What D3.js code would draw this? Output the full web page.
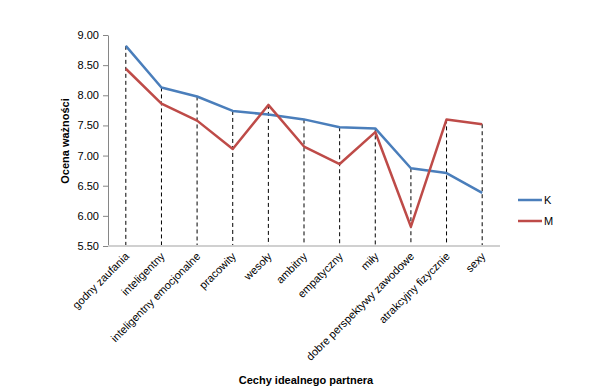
<!DOCTYPE html>
<html><head><meta charset="utf-8">
<script src="https://cdn.jsdelivr.net/npm/d3@7/dist/d3.min.js"></script>
<style>body{margin:0;background:#fff;} text{font-family:"Liberation Sans",Arial,sans-serif;}</style>
</head><body>
<svg id="c" width="589" height="390"></svg>
<script>
const categories = ["godny zaufania","inteligentny","inteligentny emocjonalne","pracowity","wesoły","ambitny","empatyczny","miły","dobre perspektywy zawodowe","atrakcyjny fizycznie","sexy"];
const seriesK = [8.82,8.13,7.98,7.74,7.68,7.60,7.47,7.45,6.79,6.71,6.38];
const seriesM = [8.44,7.86,7.58,7.11,7.84,7.15,6.86,7.39,5.82,7.60,7.52];
const yTicks = [5.5,6.0,6.5,7.0,7.5,8.0,8.5,9.0];
const seriesNames = ["K","M"];
const colors = ["#4a7ebb","#be4b48"];

const svg = d3.select("#c");
const x = d3.scaleBand().domain(categories).range([108,500]);
const y = d3.scaleLinear().domain([5.5,9.0]).range([246,35]);
const cx = d => x(d) + x.bandwidth()/2;

// y axis
const ya = svg.append("g").attr("transform","translate(108,0)")
  .call(d3.axisLeft(y).tickValues(yTicks).tickFormat(d3.format(".2f")).tickSize(5).tickSizeOuter(0));
ya.select(".domain").attr("stroke","#868686");
ya.selectAll(".tick line").attr("stroke","#868686");
ya.selectAll(".tick text").attr("font-size","11px").attr("fill","#000").attr("x",-9);

// drop lines
svg.append("g").selectAll("line").data(categories).join("line")
  .attr("x1",d=>cx(d)).attr("x2",d=>cx(d))
  .attr("y1",(d,i)=>y(Math.max(seriesK[i],seriesM[i])))
  .attr("y2",y(5.5))
  .attr("stroke","#000").attr("stroke-width",1).attr("stroke-dasharray","4,3");

// x axis line
svg.append("line").attr("x1",108).attr("x2",500).attr("y1",y(5.5)).attr("y2",y(5.5))
  .attr("stroke","#d0d0d0").attr("stroke-width",2);

// x labels
svg.append("g").selectAll("text").data(categories).join("text")
  .attr("transform",d=>`translate(${cx(d)+4},${257}) rotate(-45)`)
  .attr("text-anchor","end").attr("font-size","11px").attr("fill","#000")
  .text(d=>d);

// lines
const line = d3.line().x((d,i)=>cx(categories[i])).y(d=>y(d));
[seriesK,seriesM].forEach((s,k)=>{
  svg.append("path").datum(s).attr("d",line).attr("fill","none")
    .attr("stroke",colors[k]).attr("stroke-width",2.5).attr("stroke-linejoin","round");
});

// legend
seriesNames.forEach((n,k)=>{
  const ly = 200 + k*21;
  svg.append("line").attr("x1",518).attr("x2",542).attr("y1",ly).attr("y2",ly)
    .attr("stroke",colors[k]).attr("stroke-width",2.5);
  svg.append("text").attr("x",544).attr("y",ly+4).attr("font-size","11px").text(n);
});

// axis titles
svg.append("text").attr("transform","translate(69,141) rotate(-90)")
  .attr("text-anchor","middle").attr("font-size","11px").attr("font-weight","bold").text("Ocena ważności");
svg.append("text").attr("x",306).attr("y",384)
  .attr("text-anchor","middle").attr("font-size","11px").attr("font-weight","bold").text("Cechy idealnego partnera");
</script>
</body></html>
